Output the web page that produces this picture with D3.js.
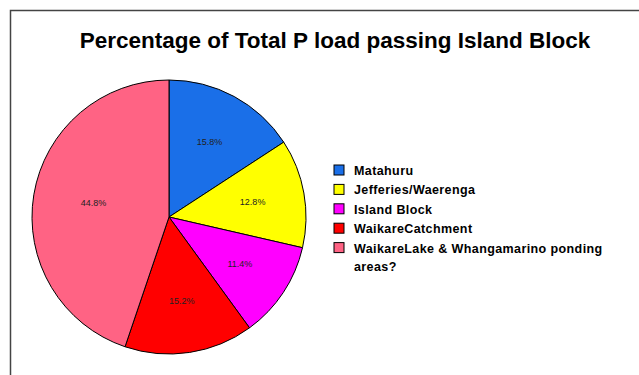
<!DOCTYPE html>
<html>
<head>
<meta charset="utf-8">
<script src="https://cdnjs.cloudflare.com/ajax/libs/d3/7.8.5/d3.min.js"></script>
<style>
  body { margin:0; background:#fff; }
  text { font-family: "Liberation Sans", Arial, sans-serif; }
</style>
</head>
<body>
<div id="chart"></div>
<script>
// data
var categories = ["Matahuru", "Jefferies/Waerenga", "Island Block", "WaikareCatchment", "WaikareLake & Whangamarino ponding areas?"];
var values = [15.8, 12.8, 11.4, 15.2, 44.8];
var labels = ["15.8%", "12.8%", "11.4%", "15.2%", "44.8%"];
var colors = ["#1a6fe8", "#ffff00", "#ff00ff", "#ff0000", "#ff6384"];

var width = 639, height = 375;
var cx = 169, cy = 217, radius = 137;

var svg = d3.select("#chart").append("svg")
    .attr("width", width)
    .attr("height", height);

// outer frame (only top and left edges visible)
svg.append("path")
    .attr("d", "M10.5," + height + "V10.5H" + width)
    .style("fill", "none")
    .style("stroke", "#444")
    .style("stroke-width", 1.5);

svg.append("text")
    .attr("x", 335)
    .attr("y", 48)
    .attr("text-anchor", "middle")
    .style("font-size", "22.5px")
    .style("font-weight", "bold")
    .text("Percentage of Total P load passing Island Block");

var pie = d3.pie().sort(null).value(function(d) { return d; });
var arc = d3.arc().innerRadius(0).outerRadius(radius);
var labelArc = d3.arc().innerRadius(radius * 0.62).outerRadius(radius * 0.62);

var g = svg.append("g").attr("transform", "translate(" + cx + "," + cy + ")");
var arcs = pie(values);

g.selectAll("path.slice")
  .data(arcs)
  .enter().append("path")
    .attr("class", "slice")
    .attr("d", arc)
    .style("fill", function(d, i) { return colors[i]; })
    .style("stroke", "#000")
    .style("stroke-width", 1);

g.selectAll("text.lbl")
  .data(arcs)
  .enter().append("text")
    .attr("class", "lbl")
    .attr("transform", function(d, i) {
      var c = labelArc.centroid(d);
      if (i === 4) { c[0] *= 0.9; }
      return "translate(" + c + ")";
    })
    .attr("text-anchor", "middle")
    .attr("dy", "0.35em")
    .style("font-size", "9px")
    .style("fill", "#222")
    .text(function(d, i) { return labels[i]; });

// legend
var legend = svg.append("g").attr("transform", "translate(334,165)");
var rowH = 19.4;
categories.forEach(function(name, i) {
  var row = legend.append("g").attr("transform", "translate(0," + (i * rowH) + ")");
  row.append("rect")
    .attr("width", 10).attr("height", 10)
    .style("fill", colors[i])
    .style("stroke", "#000").style("stroke-width", 1);
  var t = row.append("text")
    .attr("x", 20).attr("y", 10)
    .style("font-size", "12.5px")
    .style("font-weight", "bold")
    .style("letter-spacing", "0.4px");
  if (i === 4) {
    t.append("tspan").text("WaikareLake & Whangamarino ponding");
    t.append("tspan").attr("x", 20).attr("dy", 18).text("areas?");
  } else {
    t.text(name);
  }
});
</script>
</body>
</html>
